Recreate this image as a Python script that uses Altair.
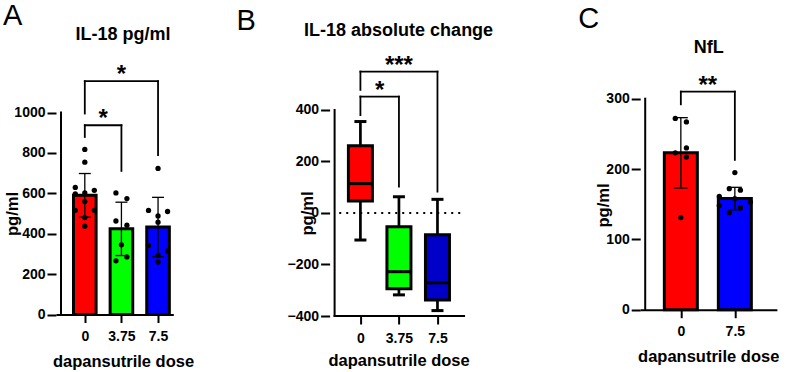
import altair as alt
import pandas as pd

FONT = "Liberation Sans"

# ---------------- Panel A : IL-18 pg/ml (bars = mean, error = SD) ----------------
dose_A = ["0", "3.75", "7.5"]
fill_A = ["#FF0000", "#00FF00", "#0000FF"]
mean_A = [590, 424, 433]
sd_A = [108, 132, 147]
pts_A = [
    [817, 754, 629, 615, 602, 597, 559, 516, 516, 480, 437],
    [602, 574, 463, 442, 345, 285, 266],
    [723, 515, 510, 488, 457, 341, 315, 292, 260],
]
slot_A = [
    [0, 0, -1, 1, 0, -1, 0, -1, 1, 0, 0],
    [-1, 1, -1, 1, 0, 1, -1],
    [0, -1, 1, 0, 0, -1, 1, 0, 0],
]
spread_A = [0.26, 0.15, 0.26]
brk_A_from = [0, 0]
brk_A_to = [1, 2]
brk_A_y = [937, 1155]
brk_A_left = [879, 995]
brk_A_right = [711, 789]
brk_A_text = ["*", "*"]

# ---------------- Panel B : IL-18 absolute change (box plots) ----------------
dose_B = ["0", "3.75", "7.5"]
fill_B = ["#FF0000", "#00FF00", "#0000C8"]
low_B = [-105, -318, -379]
q1_B = [47, -294, -338]
med_B = [114, -228, -271]
q3_B = [261, -53, -85]
high_B = [355, 63, 53]
brk_B_from = [0, 0]
brk_B_to = [1, 2]
brk_B_y = [452, 549]
brk_B_left = [380, 478]
brk_B_right = [102, 83]
brk_B_text = ["*", "***"]

# ---------------- Panel C : NfL ----------------
dose_C = ["0", "7.5"]
fill_C = ["#FF0000", "#0000FF"]
mean_C = [223, 158]
sd_C = [50, 16]
pts_C = [
    [272, 267, 230, 223, 217, 131],
    [195, 172, 170, 161, 158, 153, 148, 145, 138],
]
slot_C = [
    [-1, 1, 1, -1, 1, 0],
    [0, -1, 1, -2.8, 0, 2.8, -2.8, 1, -1],
]
spread_C = [0.103, 0.103]
brk_C_from = [0]
brk_C_to = [1]
brk_C_y = [310]
brk_C_left = [292]
brk_C_right = [213]
brk_C_text = ["**"]

TXT = dict(font=FONT, fontWeight="bold", color="black")


def x_axis(doses, title_x, title_y, show_domain=True):
    return alt.Axis(
        values=list(range(len(doses))),
        labelExpr=f"{doses}[datum.value]",
        title="dapansutrile dose",
        titleX=title_x, titleY=title_y, titleBaseline="alphabetic",
        titleFont=FONT, titleFontSize=16.5, titleFontWeight="bold", titleColor="black",
        labelFont=FONT, labelFontSize=14, labelFontWeight="bold", labelColor="black",
        labelPadding=7, labelFlush=False, labelOverlap=False,
        domain=show_domain, domainColor="black", domainWidth=2,
        tickSize=8, tickWidth=2, tickColor="black", grid=False,
    )


def y_axis(values, title_x, title_y):
    return alt.Axis(
        values=values, domain=False, format="d",
        title="pg/ml", titleX=title_x, titleY=title_y,
        titleFont=FONT, titleFontSize=16.5, titleFontWeight="bold", titleColor="black",
        labelFont=FONT, labelFontSize=14, labelFontWeight="bold", labelColor="black",
        labelPadding=2, tickSize=9, tickWidth=2, tickColor="black", grid=False,
    )


def bracket_layers(xs, ys, frm, to, yv, yl, yr, txt):
    df = pd.DataFrame({"x1": frm, "x2": to, "y": yv, "yl": yl, "yr": yr, "t": txt})
    df["xm"] = (df["x1"] + df["x2"]) / 2
    base = alt.Chart(df)
    rule = dict(color="black", strokeWidth=1.8, strokeCap="square")
    h = base.mark_rule(**rule).encode(x=alt.X("x1:Q", scale=xs), x2="x2:Q", y=alt.Y("y:Q", scale=ys))
    l = base.mark_rule(**rule).encode(x=alt.X("x1:Q", scale=xs), y=alt.Y("yl:Q", scale=ys), y2="y:Q")
    r = base.mark_rule(**rule).encode(x=alt.X("x2:Q", scale=xs), y=alt.Y("yr:Q", scale=ys), y2="y:Q")
    s = base.mark_text(fontSize=24, baseline="alphabetic", dy=1, **TXT).encode(
        x=alt.X("xm:Q", scale=xs), y=alt.Y("y:Q", scale=ys), text="t:N")
    return [h, l, r, s]


def label_layers(letter, lx, ly, title, tx, ty):
    a = alt.Chart(pd.DataFrame({"t": [letter]})).mark_text(
        font=FONT, fontSize=29, fontWeight="normal", color="black", align="left", baseline="alphabetic"
    ).encode(x=alt.value(lx), y=alt.value(ly), text="t:N")
    b = alt.Chart(pd.DataFrame({"t": [title]})).mark_text(
        fontSize=18, align="center", baseline="alphabetic", **TXT
    ).encode(x=alt.value(tx), y=alt.value(ty), text="t:N")
    return [a, b]


def bar_panel(doses, fills, means, sds, pts, slots, spread, brk, xdom, ydom, yticks,
              width, height, bar_size, cap, ytitle, xtitle, letter, title):
    n = len(doses)
    xs = alt.Scale(domain=xdom, nice=False, zero=False)
    ys = alt.Scale(domain=ydom, nice=False, zero=False)
    xa = x_axis(doses, *xtitle)
    ya = y_axis(yticks, *ytitle)
    bars = pd.DataFrame({"x": list(range(n)), "y": means, "fill": fills,
                         "lo": [m - s for m, s in zip(means, sds)],
                         "hi": [m + s for m, s in zip(means, sds)]})
    rows = []
    for g in range(n):
        for v, s in zip(pts[g], slots[g]):
            rows.append({"x": g + s * spread[g], "y": v})
    pdf = pd.DataFrame(rows)
    X = alt.X("x:Q", scale=xs, axis=xa)
    Y = alt.Y("y:Q", scale=ys, axis=ya)
    bar = alt.Chart(bars).mark_bar(size=bar_size, stroke="black", strokeWidth=3).encode(
        x=X, y=Y, color=alt.Color("fill:N", scale=None))
    dots = alt.Chart(pdf).mark_circle(size=28, color="black", opacity=1).encode(x=X, y=Y)
    err = alt.Chart(bars).mark_rule(color="black", strokeWidth=1.3).encode(
        x=X, y=alt.Y("lo:Q", scale=ys, axis=ya), y2="hi:Q")
    cap_hi = alt.Chart(bars).mark_tick(orient="horizontal", size=cap, thickness=1.3, color="black",
                                       opacity=1).encode(x=X, y=alt.Y("hi:Q", scale=ys, axis=ya))
    cap_lo = alt.Chart(bars).mark_tick(orient="horizontal", size=cap, thickness=1.3, color="black",
                                       opacity=1).encode(x=X, y=alt.Y("lo:Q", scale=ys, axis=ya))
    yline = alt.Chart(pd.DataFrame({"a": [0]})).mark_rule(color="black", strokeWidth=2, strokeCap="square").encode(
        x=alt.X(datum=xdom[0], type="quantitative", scale=xs),
        y=alt.Y(datum=yticks[0], type="quantitative", scale=ys), y2=alt.Y2(datum=yticks[-1]))
    layers = [bar, dots, err, cap_hi, cap_lo, yline] + bracket_layers(xs, ys, *brk) + label_layers(letter[0], letter[1], letter[2], title[0], title[1], title[2])
    return alt.layer(*layers).properties(width=width, height=height)


panel_A = bar_panel(
    dose_A, fill_A, mean_A, sd_A, pts_A, slot_A, spread_A,
    (brk_A_from, brk_A_to, brk_A_y, brk_A_left, brk_A_right, brk_A_text),
    [-0.65, 2.28], [0, 1260], [0, 200, 400, 600, 800, 1000],
    117.3, 254.5, 22.6, 12,
    (-35.5, 153.5), (67, 52), ("A", -53, -35), ("IL-18 pg/ml", 67, -20.5),
)

panel_C = bar_panel(
    dose_C, fill_C, mean_C, sd_C, pts_C, slot_C, spread_C,
    (brk_C_from, brk_C_to, brk_C_y, brk_C_left, brk_C_right, brk_C_text),
    [-0.66, 1.686], [0, 355], [0, 100, 200, 300],
    136.7, 249.7, 33, 14,
    (-29, 145), (68, 52), ("C", -62, -32), ("NfL", 68.5, -6.7),
)

# ---- Panel B box plot ----
xdom_B = [-0.67, 3.073]
xend_B = 2.69
ys_B = alt.Scale(domain=[-400, 594], nice=False, zero=False)
xs_B = alt.Scale(domain=xdom_B, nice=False, zero=False)
xa_B = x_axis(dose_B, 69, 49, show_domain=False)
ya_B = y_axis([-400, -200, 0, 200, 400], -14, 153)
box = pd.DataFrame({"x": list(range(3)), "lo": low_B, "q1": q1_B, "med": med_B,
                    "q3": q3_B, "hi": high_B, "fill": fill_B})
XB = alt.X("x:Q", scale=xs_B, axis=xa_B)
whisk = alt.Chart(box).mark_rule(color="black", strokeWidth=2.7).encode(
    x=XB, y=alt.Y("lo:Q", scale=ys_B, axis=ya_B), y2="hi:Q")
boxes = alt.Chart(box).mark_bar(size=24, stroke="black", strokeWidth=3).encode(
    x=XB, y=alt.Y("q1:Q", scale=ys_B, axis=ya_B), y2="q3:Q", color=alt.Color("fill:N", scale=None))
med = alt.Chart(box).mark_tick(orient="horizontal", size=24, thickness=3, color="black", opacity=1).encode(
    x=XB, y=alt.Y("med:Q", scale=ys_B, axis=ya_B))
cap_hi_B = alt.Chart(box).mark_tick(orient="horizontal", size=12, thickness=3, color="black", opacity=1).encode(
    x=XB, y=alt.Y("hi:Q", scale=ys_B, axis=ya_B))
cap_lo_B = alt.Chart(box).mark_tick(orient="horizontal", size=12, thickness=3, color="black", opacity=1).encode(
    x=XB, y=alt.Y("lo:Q", scale=ys_B, axis=ya_B))
one = pd.DataFrame({"a": [0]})
zero_line = alt.Chart(one).mark_rule(color="black", strokeWidth=1.8, strokeDash=[2, 5]).encode(
    x=alt.X(datum=-0.55, type="quantitative", scale=xs_B), x2=alt.X2(datum=xend_B),
    y=alt.Y(datum=0, type="quantitative", scale=ys_B))
xline_B = alt.Chart(one).mark_rule(color="black", strokeWidth=2, strokeCap="square").encode(
    x=alt.X(datum=xdom_B[0], type="quantitative", scale=xs_B), x2=alt.X2(datum=xend_B),
    y=alt.Y(datum=-400, type="quantitative", scale=ys_B))
yline_B = alt.Chart(one).mark_rule(color="black", strokeWidth=2, strokeCap="square").encode(
    x=alt.X(datum=xdom_B[0], type="quantitative", scale=xs_B),
    y=alt.Y(datum=-400, type="quantitative", scale=ys_B), y2=alt.Y2(datum=400))
layers_B = [whisk, boxes, med, cap_hi_B, cap_lo_B, zero_line, xline_B, yline_B]
layers_B += bracket_layers(xs_B, ys_B, brk_B_from, brk_B_to, brk_B_y, brk_B_left, brk_B_right, brk_B_text)
layers_B += label_layers("B", -93, -30, "IL-18 absolute change", 69, -24.5)
panel_B = alt.layer(*layers_B).properties(width=154.2, height=256)

chart = (
    alt.hconcat(panel_A, panel_B, panel_C, spacing=155.6, bounds="flush")
    .resolve_scale(x="independent", y="independent")
    .properties(padding={"left": 3, "top": 2, "right": 0, "bottom": 0}, background="white")
    .configure_view(stroke=None)
)

chart.save("out.html", embed_options={"renderer": "svg", "actions": False})
